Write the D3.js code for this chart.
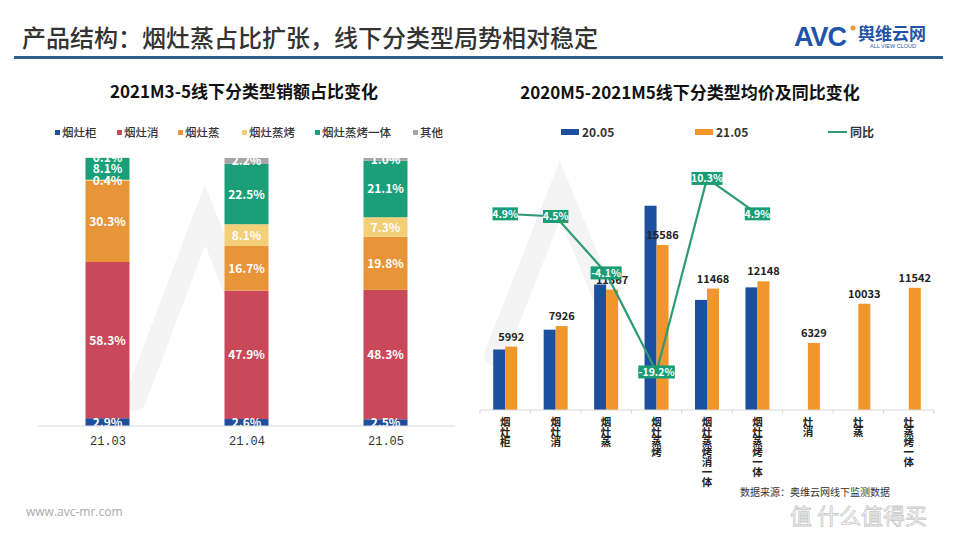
<!DOCTYPE html>
<html><head><meta charset="utf-8">
<script src="https://cdn.jsdelivr.net/npm/d3@7/dist/d3.min.js"></script>
<style>
html,body{margin:0;padding:0;background:#fff;}
svg{display:block;font-family:"Noto Sans CJK SC","Noto Sans",sans-serif;}
.vlab{writing-mode:vertical-rl;text-orientation:upright;}
</style></head>
<body><svg id="c" width="960" height="540"></svg>
<script>
// ---------- Data ----------
const shareMonths = ["21.03", "21.04", "21.05"];
const shareSeries = ["烟灶柜", "烟灶消", "烟灶蒸", "烟灶蒸烤", "烟灶蒸烤一体", "其他"];
const share_烟灶柜 = [2.9, 2.6, 2.5];
const share_烟灶消 = [58.3, 47.9, 48.3];
const share_烟灶蒸 = [30.3, 16.7, 19.8];
const share_烟灶蒸烤 = [0.4, 8.1, 7.3];
const share_烟灶蒸烤一体 = [8.1, 22.5, 21.1];
const share_其他 = [0.1, 2.2, 1.0];

const priceCats = ["烟灶柜", "烟灶消", "烟灶蒸", "烟灶蒸烤", "烟灶蒸烤消一体", "烟灶蒸烤一体", "灶消", "灶蒸", "灶蒸烤一体"];
const price2005 = [5712, 7585, 11853, 19290, 10397, 11581, null, null, null];
const price2105 = [5992, 7926, 11367, 15586, 11468, 12148, 6329, 10033, 11542];
const yoy = [4.9, 4.5, -4.1, -19.2, 10.3, 4.9, null, null, null];

const shareColors = ["#1f4e9c", "#c9495a", "#e8953a", "#f3cf78", "#1a9f79", "#a6a6a6"];
const blue = "#1c4f9e", orange = "#f0962b", green = "#2c9a78", greenBox = "#1a9d74";

const svg = d3.select("#c");

// ---------- faint watermark shapes (non-text) ----------
const wm = svg.append("g").attr("fill", "none").attr("stroke", "#000").attr("stroke-opacity", 0.045).attr("stroke-width", 22).attr("stroke-linecap", "round");
wm.append("path").attr("d", "M135,400 L205,215 L250,330");
wm.append("path").attr("d", "M495,355 L560,190 L605,300");

// ---------- header ----------
svg.append("text").attr("x", 22).attr("y", 47).attr("font-size", 24).attr("font-weight", 500)
  .attr("fill", "#333").text("产品结构：烟灶蒸占比扩张，线下分类型局势相对稳定");
svg.append("rect").attr("x", 14).attr("y", 56).attr("width", 929).attr("height", 3).attr("fill", "#2f5f8e");
// logo
svg.append("text").attr("x", 794).attr("y", 46).attr("font-size", 27).attr("font-weight", "bold")
  .attr("font-family", "Liberation Sans").attr("fill", "#1f55a8").attr("letter-spacing", -1).text("AVC");
svg.append("circle").attr("cx", 853).attr("cy", 28).attr("r", 2.5).attr("fill", "#f0962b");
svg.append("text").attr("x", 858).attr("y", 40).attr("font-size", 17).attr("font-weight", "bold").attr("fill", "#1f55a8").text("舆维云网");
svg.append("text").attr("x", 870).attr("y", 48).attr("font-size", 5.5).attr("fill", "#1f55a8").attr("font-family", "Liberation Sans").text("ALL VIEW CLOUD");

// ---------- left chart ----------
svg.append("text").attr("x", 244).attr("y", 98).attr("text-anchor", "middle").attr("font-size", 17)
  .attr("font-weight", "bold").attr("fill", "#111").text("2021M3-5线下分类型销额占比变化");

const legX = [55, 117, 178, 242, 315, 413];
const lg = svg.append("g");
shareSeries.forEach((s, i) => {
  lg.append("rect").attr("x", legX[i]).attr("y", 130).attr("width", 5).attr("height", 5).attr("fill", shareColors[i]);
  lg.append("text").attr("x", legX[i] + 7).attr("y", 136.5).attr("font-size", 11.5).attr("font-weight", 500).attr("fill", "#333").text(s);
});

const shareData = [share_烟灶柜, share_烟灶消, share_烟灶蒸, share_烟灶蒸烤, share_烟灶蒸烤一体, share_其他];
const xL = d3.scalePoint().domain(shareMonths).range([38, 455]).padding(0.5);
const yL = d3.scaleLinear().domain([0, 100]).range([426, 158]);
const barW = 44;
svg.append("defs").append("clipPath").attr("id", "clipL").append("rect").attr("x", 0).attr("y", 157).attr("width", 480).attr("height", 269);
const gL = svg.append("g").attr("clip-path", "url(#clipL)");
shareMonths.forEach((m, j) => {
  let cum = 0;
  shareSeries.forEach((s, i) => {
    const v = shareData[i][j];
    const y0 = yL(cum), y1 = yL(cum + v);
    gL.append("rect").attr("x", xL(m) - barW / 2).attr("y", y1).attr("width", barW).attr("height", y0 - y1).attr("fill", shareColors[i]);
    cum += v;
  });
});
shareMonths.forEach((m, j) => {
  let cum = 0;
  shareSeries.forEach((s, i) => {
    const v = shareData[i][j];
    const yc = yL(cum + v / 2);
    gL.append("text").attr("x", xL(m)).attr("y", yc + 4.5).attr("text-anchor", "middle")
      .attr("font-size", 12).attr("font-weight", "bold").attr("fill", "#fff").text(v.toFixed(1) + "%");
    cum += v;
  });
});
const axL = svg.append("g").attr("transform", "translate(0,426)")
  .call(d3.axisBottom(xL).tickSize(0).tickPadding(10));
axL.select(".domain").attr("stroke", "#d9d9d9").attr("d", "M38,0H455");
axL.selectAll("text").attr("font-size", 12).attr("fill", "#333").attr("font-family", "Liberation Mono, DejaVu Sans Mono");

// ---------- right chart ----------
svg.append("text").attr("x", 690).attr("y", 99).attr("text-anchor", "middle").attr("font-size", 17)
  .attr("font-weight", "bold").attr("fill", "#111").text("2020M5-2021M5线下分类型均价及同比变化");
const rl = svg.append("g");
rl.append("rect").attr("x", 561).attr("y", 129).attr("width", 18).attr("height", 6).attr("fill", blue);
rl.append("text").attr("x", 582).attr("y", 137).attr("font-size", 12).attr("font-weight", "bold").attr("fill", "#333").text("20.05");
rl.append("rect").attr("x", 695).attr("y", 129).attr("width", 18).attr("height", 6).attr("fill", orange);
rl.append("text").attr("x", 716).attr("y", 137).attr("font-size", 12).attr("font-weight", "bold").attr("fill", "#333").text("21.05");
rl.append("line").attr("x1", 828).attr("x2", 847).attr("y1", 132).attr("y2", 132).attr("stroke", green).attr("stroke-width", 2);
rl.append("text").attr("x", 850).attr("y", 137).attr("font-size", 12).attr("font-weight", "bold").attr("fill", "#333").text("同比");

const xR = d3.scaleBand().domain(priceCats).range([480, 934]).padding(0);
const yR = d3.scaleLinear().domain([0, 20000]).range([410, 198.2]);
const yY = d3.scaleLinear().domain([-25, 15]).range([410, 147.6]);
const bw = 12;
const cx = c => xR(c) + xR.bandwidth() / 2;
const gR = svg.append("g");
priceCats.forEach((c, i) => {
  if (price2005[i] != null)
    gR.append("rect").attr("x", cx(c) - bw).attr("y", yR(price2005[i])).attr("width", bw).attr("height", 410 - yR(price2005[i])).attr("fill", blue);
  if (price2105[i] != null)
    gR.append("rect").attr("x", cx(c)).attr("y", yR(price2105[i])).attr("width", bw).attr("height", 410 - yR(price2105[i])).attr("fill", orange);
});
priceCats.forEach((c, i) => {
  gR.append("text").attr("x", cx(c) + 6).attr("y", yR(price2105[i]) - 6).attr("text-anchor", "middle")
    .attr("font-size", 11).attr("font-weight", "bold").attr("fill", "#222").text(price2105[i]);
});
const axR = svg.append("g").attr("transform", "translate(0,410)")
  .call(d3.axisBottom(xR).tickSize(0).tickFormat(""));
axR.select(".domain").attr("stroke", "#d9d9d9").attr("d", "M480,0H934");
d3.range(priceCats.length + 1).forEach(k => {
  const x = 480 + k * xR.step();
  axR.append("line").attr("x1", x).attr("x2", x).attr("y1", 0).attr("y2", 4).attr("stroke", "#d9d9d9");
});
priceCats.forEach(c => {
  svg.append("text").attr("class", "vlab").attr("x", cx(c)).attr("y", 417)
    .attr("font-size", 10.5).attr("font-weight", "bold").attr("fill", "#222")
    .attr("letter-spacing", -0.5).text(c);
});
// line
const pts = priceCats.map((c, i) => ({ c, v: yoy[i] })).filter(d => d.v != null);
gR.append("path").datum(pts).attr("fill", "none").attr("stroke", green).attr("stroke-width", 2.2)
  .attr("d", d3.line().x(d => cx(d.c)).y(d => yY(d.v)));
pts.forEach(d => {
  const label = d.v.toFixed(1) + "%";
  const w = label.length * 5.6 + 3;
  gR.append("rect").attr("x", cx(d.c) - w / 2).attr("y", yY(d.v) - 6.5).attr("width", w).attr("height", 13).attr("fill", greenBox);
  gR.append("text").attr("x", cx(d.c)).attr("y", yY(d.v) + 3.8).attr("text-anchor", "middle")
    .attr("font-size", 10.5).attr("font-weight", "bold").attr("fill", "#fff").text(label);
});

// ---------- footer ----------
svg.append("text").attr("x", 740).attr("y", 496).attr("font-size", 10).attr("fill", "#333").text("数据来源：奥维云网线下监测数据");
svg.append("text").attr("x", 26).attr("y", 516).attr("font-size", 12).attr("fill", "#aaa").attr("font-family", "Open Sans").text("www.avc-mr.com");
svg.append("text").attr("x", 790).attr("y", 524).attr("font-size", 22).attr("fill", "none").attr("stroke", "#c8c8c8").attr("stroke-width", 0.8).text("值 什么值得买");
</script></body></html>
